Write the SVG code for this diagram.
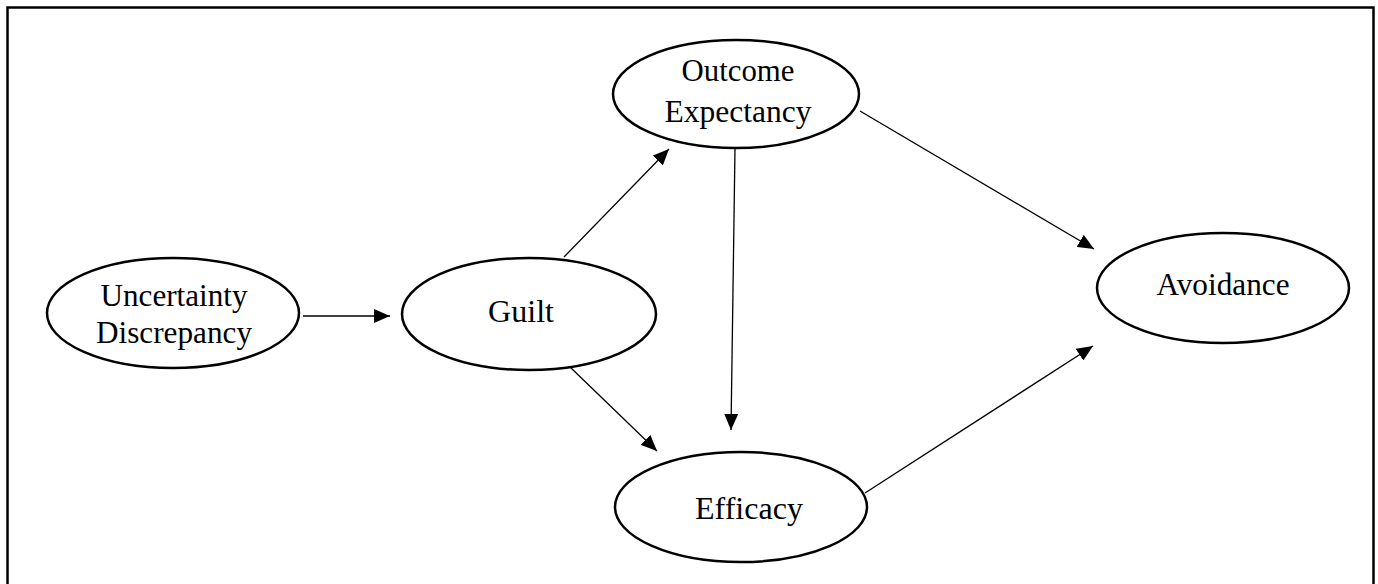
<svg xmlns="http://www.w3.org/2000/svg" width="1378" height="584" viewBox="0 0 1378 584">
<style>
.node{fill:#fff;stroke:#000;stroke-width:2.5}
.lbl{font-family:"Liberation Serif","Times New Roman",serif;font-size:32px;fill:#000;text-anchor:middle}
.edge{stroke:#000;stroke-width:1.3;fill:none;marker-end:url(#ah)}
</style>
<defs>
<marker id="ah" markerUnits="userSpaceOnUse" markerWidth="17" markerHeight="14" refX="16" refY="7" orient="auto">
<path d="M0,0 L16,7 L0,14 Z" fill="#000"/>
</marker>
</defs>
<rect x="0" y="0" width="1378" height="584" fill="#fff"/>
<rect x="7.5" y="7.5" width="1366" height="600" fill="none" stroke="#000" stroke-width="2.5"/>
<g id="connectors">
<line class="edge" x1="303" y1="316" x2="390" y2="316"/>
<line class="edge" x1="564" y1="257" x2="669" y2="149"/>
<line class="edge" x1="570" y1="367" x2="657" y2="451"/>
<line class="edge" x1="735" y1="148" x2="731" y2="430"/>
<line class="edge" x1="860" y1="111" x2="1094" y2="249"/>
<line class="edge" x1="865" y1="493" x2="1093" y2="346"/>
</g>
<g id="uncertainty">
<ellipse class="node" cx="173" cy="313" rx="126" ry="55"/>
<text class="lbl" x="174" y="306" textLength="147" lengthAdjust="spacingAndGlyphs">Uncertainty</text>
<text class="lbl" x="174" y="343" textLength="156" lengthAdjust="spacingAndGlyphs">Discrepancy</text>
</g>
<g id="guilt">
<ellipse class="node" cx="529" cy="314" rx="127" ry="56"/>
<text class="lbl" x="521" y="322" textLength="66" lengthAdjust="spacingAndGlyphs">Guilt</text>
</g>
<g id="outcome">
<ellipse class="node" cx="736" cy="94" rx="123" ry="54"/>
<text class="lbl" x="738" y="81" textLength="113" lengthAdjust="spacingAndGlyphs">Outcome</text>
<text class="lbl" x="738" y="122" textLength="147" lengthAdjust="spacingAndGlyphs">Expectancy</text>
</g>
<g id="efficacy">
<ellipse class="node" cx="741" cy="507" rx="126" ry="55"/>
<text class="lbl" x="749" y="519" textLength="108" lengthAdjust="spacingAndGlyphs">Efficacy</text>
</g>
<g id="avoidance">
<ellipse class="node" cx="1223" cy="288" rx="126" ry="55"/>
<text class="lbl" x="1223" y="295" textLength="133" lengthAdjust="spacingAndGlyphs">Avoidance</text>
</g>
</svg>
